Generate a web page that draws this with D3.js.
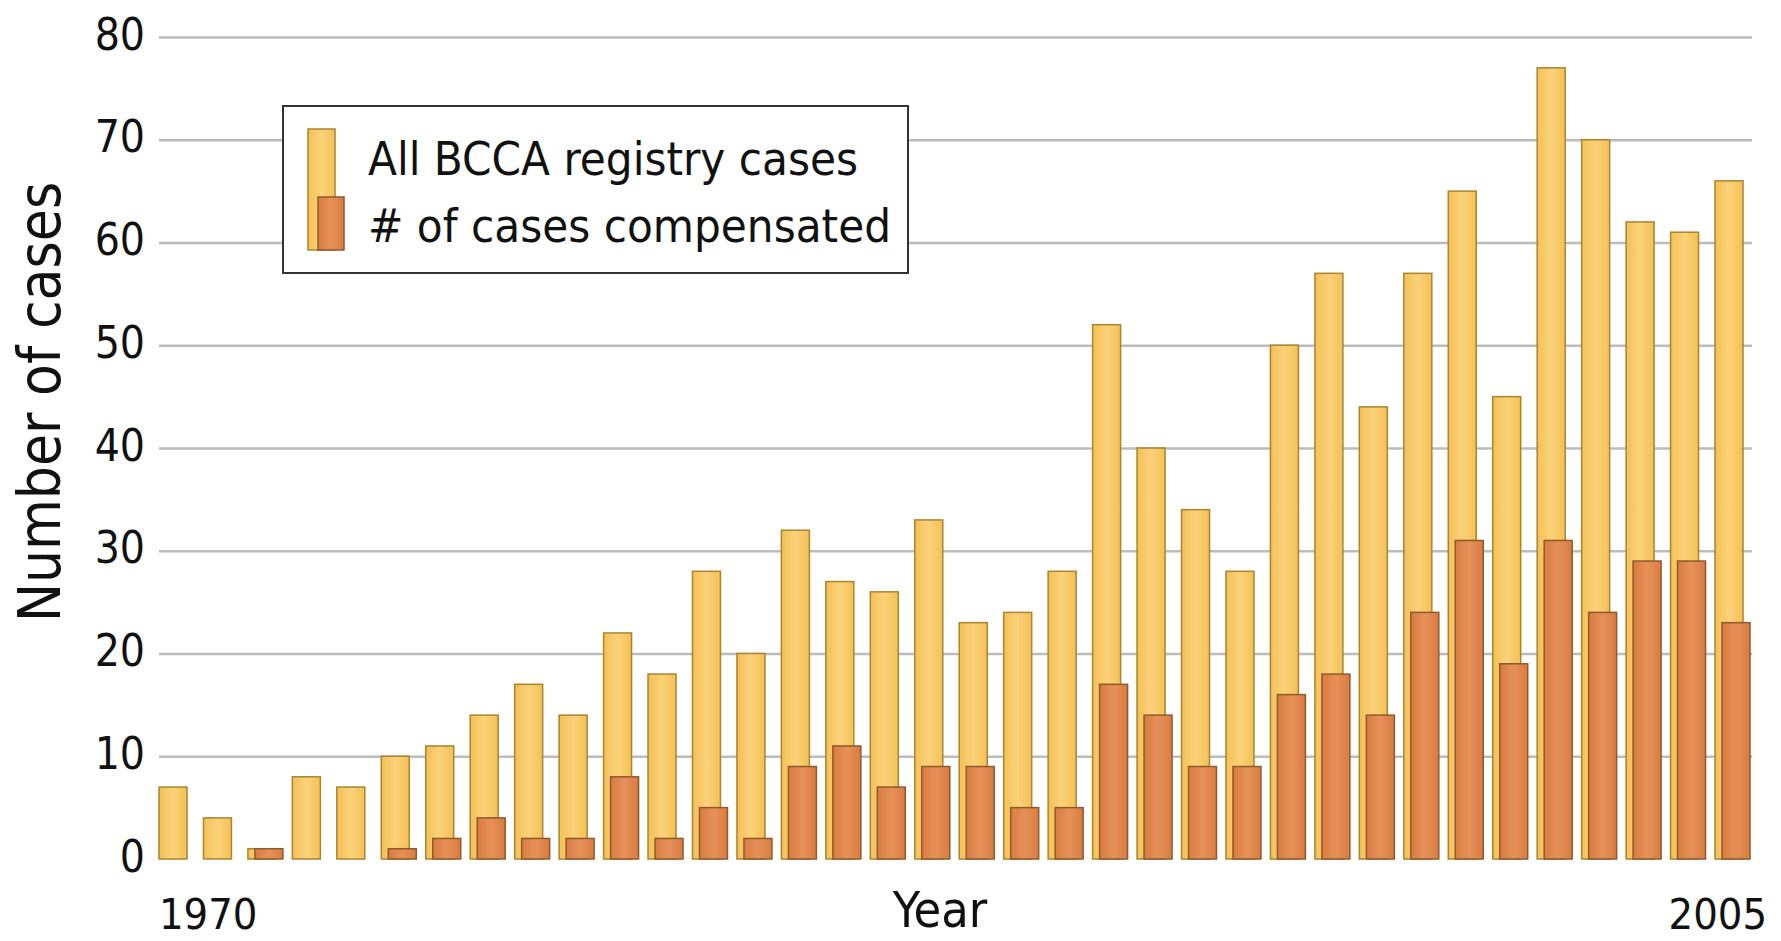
<!DOCTYPE html>
<html>
<head>
<meta charset="utf-8">
<script src="https://cdn.jsdelivr.net/npm/d3@7"></script>
<style>
  body { margin: 0; background: #fff; }
  text { font-family: 'DejaVu Sans Condensed', 'DejaVu Sans', sans-serif; fill: #111; }
</style>
</head>
<body>
<script>
// data
const years = d3.range(1970, 2006).map(String)
const allCases = [7, 4, 1, 8, 7, 10, 11, 14, 17, 14, 22, 18, 28, 20, 32, 27, 26, 33, 23, 24,
  28, 52, 40, 34, 28, 50, 57, 44, 57, 65, 45, 77, 70, 62, 61, 66]
const compensated = [0, 0, 1, 0, 0, 1, 2, 4, 2, 2, 8, 2, 5, 2, 9, 11, 7, 9, 9, 5,
  5, 17, 14, 9, 9, 16, 18, 14, 24, 31, 19, 31, 24, 29, 29, 23]
const yTicks = [0, 10, 20, 30, 40, 50, 60, 70, 80]
const xTickLabels = ['1970', '2005']
const seriesNames = ['All BCCA registry cases', '# of cases compensated']

const width = 1781
const height = 941
const gridLeft = 159
const gridRight = 1752

const svg = d3.select('body').append('svg')
  .attr('width', width)
  .attr('height', height)

const defs = svg.append('defs')
function grad(id, edge, mid) {
  const g = defs.append('linearGradient').attr('id', id)
    .attr('x1', 0).attr('x2', 1).attr('y1', 0).attr('y2', 0)
  g.append('stop').attr('offset', '0%').attr('stop-color', edge)
  g.append('stop').attr('offset', '50%').attr('stop-color', mid)
  g.append('stop').attr('offset', '100%').attr('stop-color', edge)
}
grad('gYellow', '#f5c055', '#fbd27a')
grad('gOrange', '#d97c40', '#e6915a')

const x = d3.scaleBand()
  .domain(years)
  .range([gridLeft, 1750])
  .paddingInner(0.213)
  .paddingOuter(0)
const y = d3.scaleLinear().domain([0, 80]).range([859, 37])

const bw = x.bandwidth()
const barW = bw * 0.8
const offset = bw - barW

// gridlines + tick labels
const yAxis = svg.append('g')
  .attr('transform', `translate(${gridLeft}, 0)`)
  .call(d3.axisLeft(y).tickValues(yTicks).tickSize(-(gridRight - gridLeft)).tickPadding(14))
yAxis.select('.domain').remove()
yAxis.selectAll('.tick line')
  .attr('stroke', '#bcbcbc')
  .attr('stroke-width', 2.5)
  .attr('opacity', d => d === 0 ? 0 : 1)
yAxis.selectAll('.tick text')
  .attr('dy', 12)
  .style('font-size', '44px')
  .attr('fill', '#111')

const rows = years.map((yr, i) => ({ year: yr, all: allCases[i], comp: compensated[i] }))

const groups = svg.append('g').selectAll('g')
  .data(rows)
  .enter().append('g')
  .attr('transform', d => `translate(${x(d.year)}, 0)`)

groups.append('rect')
  .attr('x', 0)
  .attr('y', d => y(d.all))
  .attr('width', barW)
  .attr('height', d => y(0) - y(d.all))
  .attr('fill', 'url(#gYellow)')
  .attr('stroke', '#a8852f')
  .attr('stroke-width', 1.5)

groups.filter(d => d.comp > 0).append('rect')
  .attr('x', offset)
  .attr('y', d => y(d.comp))
  .attr('width', barW)
  .attr('height', d => y(0) - y(d.comp))
  .attr('fill', 'url(#gOrange)')
  .attr('stroke', '#8e5a2c')
  .attr('stroke-width', 1.5)

// x labels
svg.selectAll('.xlab')
  .data(xTickLabels)
  .enter().append('text')
  .attr('class', 'xlab')
  .attr('x', (d, i) => i === 0 ? x(d) : x(d) + bw + 17)
  .attr('y', 929)
  .attr('text-anchor', (d, i) => i === 0 ? 'start' : 'end')
  .style('font-size', '43px')
  .text(d => d)

svg.append('text')
  .attr('x', 940)
  .attr('y', 927)
  .attr('text-anchor', 'middle')
  .style('font-size', '50px')
  .text('Year')

svg.append('text')
  .attr('transform', 'translate(60, 402) rotate(-90)')
  .attr('text-anchor', 'middle')
  .style('font-size', '58px')
  .text('Number of cases')

// legend
const legend = svg.append('g')
legend.append('rect')
  .attr('x', 283).attr('y', 106)
  .attr('width', 625).attr('height', 167)
  .attr('fill', '#fff')
  .attr('stroke', '#333')
  .attr('stroke-width', 2)
legend.append('rect')
  .attr('x', 308).attr('y', 129).attr('width', 27).attr('height', 121)
  .attr('fill', 'url(#gYellow)').attr('stroke', '#a8852f').attr('stroke-width', 1.5)
legend.append('rect')
  .attr('x', 318).attr('y', 197).attr('width', 26).attr('height', 53)
  .attr('fill', 'url(#gOrange)').attr('stroke', '#8e5a2c').attr('stroke-width', 1.5)
legend.selectAll('.leg-text')
  .data(seriesNames)
  .enter().append('text')
  .attr('class', 'leg-text')
  .attr('x', 368)
  .attr('y', (d, i) => 175 + i * 67)
  .style('font-size', '47px')
  .text(d => d)
</script>
</body>
</html>
